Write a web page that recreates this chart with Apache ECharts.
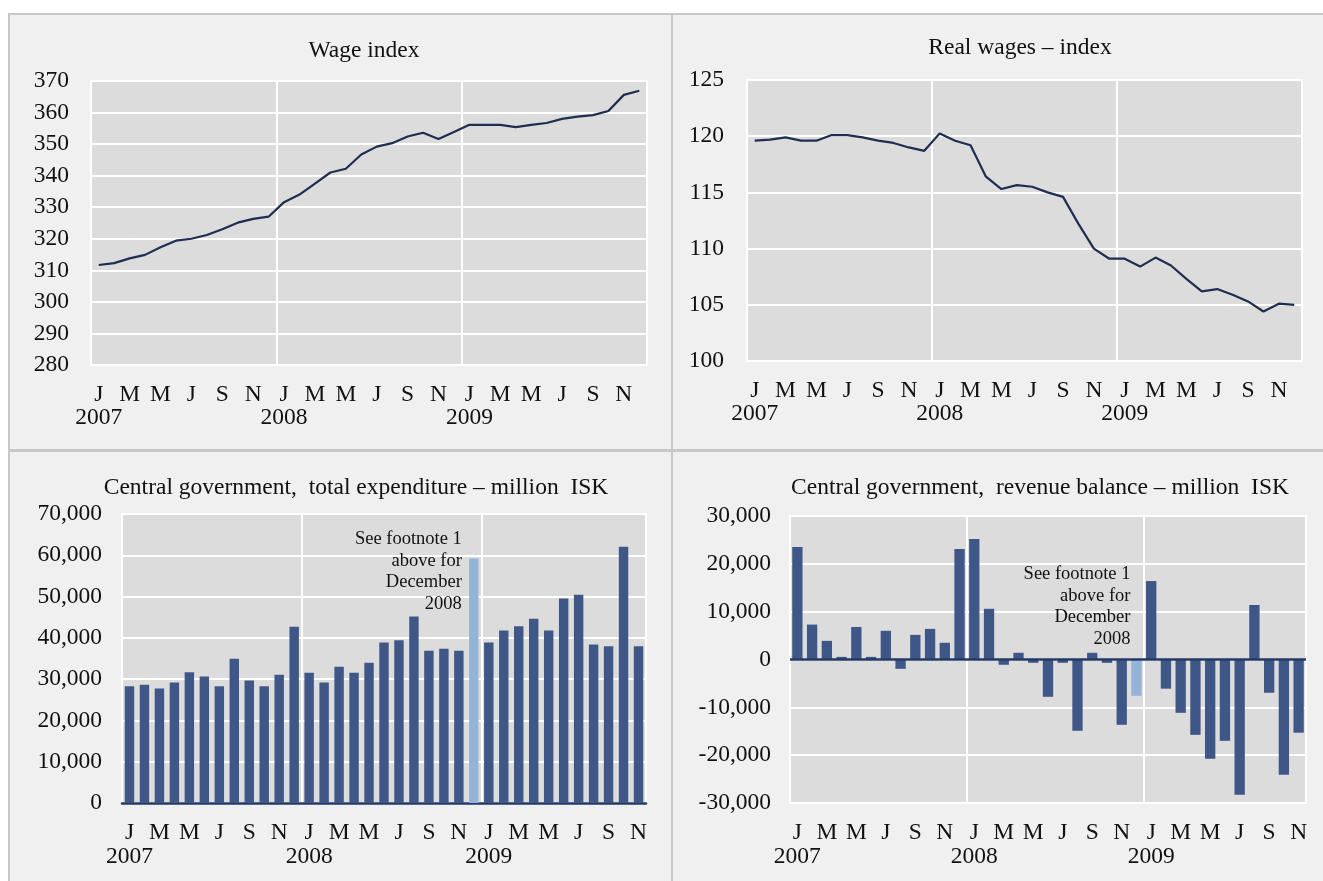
<!DOCTYPE html>
<html>
<head>
<meta charset="utf-8">
<script src="https://cdn.jsdelivr.net/npm/echarts@6/dist/echarts.min.js"></script>
<style>
  body { margin: 0; background: #fff; }
  #frame { position: absolute; left: 8px; top: 13px; width: 1315px; height: 868px; background: #c8c8c8; }
  .panel { position: absolute; background: #f0f0f0; }
</style>
</head>
<body>
<div id="frame"></div>
<div class="panel" id="wage" style="left:10px;top:15px;width:661px;height:434px"></div>
<div class="panel" id="real" style="left:673px;top:15px;width:650px;height:434px"></div>
<div class="panel" id="expend" style="left:10px;top:452px;width:661px;height:429px"></div>
<div class="panel" id="balance" style="left:673px;top:452px;width:650px;height:429px"></div>
<script>
// month letters and years used for the category axis
var monthLetters = ['J', 'F', 'M', 'A', 'M', 'J', 'J', 'A', 'S', 'O', 'N', 'D'];
var years = [2007, 2008, 2009];

// Wage index, Jan 2007 - Dec 2009
var wageIndex = [311.7, 312.3, 313.8, 314.9, 317.3, 319.4, 320.0, 321.2, 323.0, 325.1, 326.3, 327.0,
                 331.6, 334.0, 337.5, 341.0, 342.2, 346.7, 349.2, 350.3, 352.4, 353.6, 351.6, 353.8,
                 356.1, 356.1, 356.1, 355.4, 356.1, 356.7, 358.0, 358.7, 359.2, 360.5, 365.6, 366.9];

// Real wages index, Jan 2007 - Dec 2009
var realWages = [119.6, 119.7, 119.9, 119.6, 119.6, 120.1, 120.1, 119.9, 119.6, 119.4, 119.0, 118.7,
                 120.25, 119.6, 119.2, 116.4, 115.3, 115.65, 115.5, 115.0, 114.6, 112.2, 110.0, 109.1,
                 109.1, 108.4, 109.2, 108.5, 107.3, 106.2, 106.4, 105.9, 105.3, 104.4, 105.1, 105.0];

// Central government, total expenditure (million ISK), Jan 2007 - Nov 2009
var expenditure = [28250, 28650, 27750, 29200, 31650, 30650, 28250, 34950, 29700, 28250, 31050, 42700,
                   31550, 29200, 33000, 31550, 34000, 38900, 39400, 45200, 36900, 37350, 36900, 59250,
                   38900, 41800, 42800, 44650, 41800, 49550, 50450, 38400, 37950, 62050, 37950];

// Central government, revenue balance (million ISK), Jan 2007 - Nov 2009
var balance = [23500, 7300, 3900, 550, 6800, 550, 6000, -1950, 5150, 6400, 3500, 23100,
               25200, 10600, -1100, 1400, -700, -7800, -700, -14900, 1400, -700, -13650, -7600,
               16400, -6100, -11150, -15750, -20750, -17000, -28250, 11400, -6950, -24100, -15300];

var footnoteMonth = '2008-12';
var footnoteText = 'See footnote 1\nabove for\nDecember\n2008';

var FONT = '"Liberation Serif", "Times New Roman", serif';
var FS = 23.5;
var TEXT = '#111';
var LINE = '#1f2d50';
var BAR = '#3f5787';
var BAR_LIGHT = '#95b3d7';

function buildMonths(count) {
  var out = [];
  for (var i = 0; i < count; i++) {
    var y = years[0] + Math.floor(i / 12);
    var m = i % 12 + 1;
    out.push(y + '-' + (m < 10 ? '0' + m : m));
  }
  return out;
}

// two category axes on the same grid: month letters, and the year row below
function xAxesFor(cats, yearOffset, showLine) {
  var labelBase = { margin: 18, fontFamily: FONT, fontSize: FS, color: TEXT };
  return [{
    type: 'category',
    data: cats,
    axisTick: { show: false },
    axisLine: { show: showLine, onZero: false, lineStyle: { color: '#243a66', width: 2.5 } },
    axisLabel: Object.assign({}, labelBase, {
      interval: 1,
      formatter: function (v) { return monthLetters[parseInt(v.slice(5), 10) - 1]; }
    }),
    splitLine: {
      show: true,
      interval: function (i) { return i % 12 === 0; },
      lineStyle: { color: '#fff', width: 2 }
    }
  }, {
    type: 'category',
    data: cats,
    position: 'bottom',
    offset: yearOffset,
    axisTick: { show: false },
    axisLine: { show: false },
    splitLine: { show: false },
    axisLabel: Object.assign({}, labelBase, {
      interval: function (i) { return i % 12 === 0; },
      formatter: function (v) { return v.slice(0, 4); }
    })
  }];
}

function yAxisFor(min, max, step, margin) {
  return {
    type: 'value',
    min: min, max: max, interval: step,
    axisLine: { show: false },
    axisTick: { show: false },
    axisLabel: {
      margin: margin,
      fontFamily: FONT,
      fontSize: FS,
      color: TEXT,
      formatter: function (v) { return v.toLocaleString('en-US'); }
    },
    splitLine: { lineStyle: { color: '#fff', width: 2 } }
  };
}

function titleFor(text, x, top) {
  return {
    text: text,
    left: x,
    top: top,
    textAlign: 'center',
    textStyle: { fontFamily: FONT, fontSize: FS, fontWeight: 'normal', color: TEXT }
  };
}

function gridFor(left, top, width, height) {
  return {
    left: left, top: top, width: width, height: height,
    show: true, backgroundColor: '#dcdcdc', borderColor: '#fff', borderWidth: 2
  };
}

function barData(values, cats) {
  return values.map(function (v, i) {
    return cats[i] === footnoteMonth ? { value: v, itemStyle: { color: BAR_LIGHT } } : v;
  });
}

function footnoteLabel(distance) {
  return {
    show: true, position: 'left', distance: distance, align: 'right',
    formatter: footnoteText, fontFamily: FONT, fontSize: 18.5, lineHeight: 21.5, color: TEXT
  };
}

var months36 = buildMonths(36);
var months35 = buildMonths(35);

var wageChart = echarts.init(document.getElementById('wage'));
wageChart.setOption({
  animation: false,
  title: titleFor('Wage index', 349, 19),
  grid: gridFor(81, 66, 556, 284),
  xAxis: xAxesFor(months36, 23, false),
  yAxis: yAxisFor(280, 370, 10, 22),
  series: [{
    type: 'line', data: wageIndex, showSymbol: false,
    lineStyle: { color: LINE, width: 2.2 }
  }]
});

var realChart = echarts.init(document.getElementById('real'));
realChart.setOption({
  animation: false,
  title: titleFor('Real wages \u2013 index', 342, 16),
  grid: gridFor(74, 65, 555, 281),
  xAxis: xAxesFor(months36, 23, false),
  yAxis: yAxisFor(100, 125, 5, 23),
  series: [{
    type: 'line', data: realWages, showSymbol: false,
    lineStyle: { color: LINE, width: 2.2 }
  }]
});

var expendChart = echarts.init(document.getElementById('expend'));
expendChart.setOption({
  animation: false,
  title: titleFor('Central government,  total expenditure \u2013 million  ISK', 341, 19),
  grid: gridFor(112, 62, 524, 289),
  xAxis: xAxesFor(months35, 24, true),
  yAxis: yAxisFor(0, 70000, 10000, 20),
  series: [{
    type: 'bar', data: barData(expenditure, months35), barCategoryGap: '37%',
    itemStyle: { color: BAR },
    markPoint: {
      symbol: 'circle', symbolSize: 0, silent: true,
      data: [{ coord: [footnoteMonth, 56000] }],
      label: footnoteLabel(12)
    }
  }]
});

var balanceChart = echarts.init(document.getElementById('balance'));
balanceChart.setOption({
  animation: false,
  title: titleFor('Central government,  revenue balance \u2013 million  ISK', 362, 19),
  grid: gridFor(117, 64, 516, 287),
  xAxis: xAxesFor(months35, 24, false),
  yAxis: yAxisFor(-30000, 30000, 10000, 19),
  series: [{
    type: 'bar', data: barData(balance, months35), barCategoryGap: '30%',
    itemStyle: { color: BAR },
    markLine: {
      silent: true, symbol: 'none', label: { show: false },
      lineStyle: { color: '#243a66', width: 2.5, type: 'solid' },
      data: [{ yAxis: 0 }]
    },
    markPoint: {
      symbol: 'circle', symbolSize: 0, silent: true,
      data: [{ coord: [footnoteMonth, 11000] }],
      label: footnoteLabel(6)
    }
  }]
});
</script>
</body>
</html>
